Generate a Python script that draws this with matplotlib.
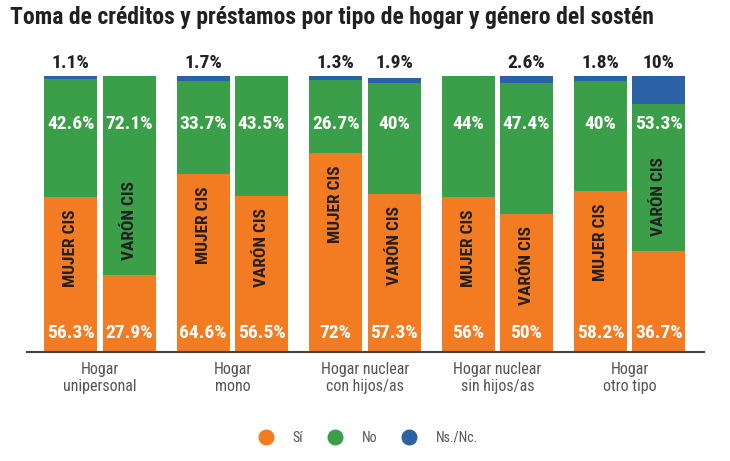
import numpy as np
import matplotlib.pyplot as plt
from matplotlib.lines import Line2D

# datos (porcentajes)
grupos = ['Hogar\nunipersonal', 'Hogar\nmono', 'Hogar nuclear\ncon hijos/as',
          'Hogar nuclear\nsin hijos/as', 'Hogar\notro tipo']
mujer_si = [56.3, 64.6, 72, 56, 58.2]
mujer_no = [42.6, 33.7, 26.7, 44, 40]
mujer_ns = [1.1, 1.7, 1.3, 0, 1.8]
varon_si = [27.9, 56.5, 57.3, 50, 36.7]
varon_no = [72.1, 43.5, 40, 47.4, 53.3]
varon_ns = [0, 0, 1.9, 2.6, 10]

naranja = '#F37B21'
verde = '#3A9F48'
azul = '#2B62A6'
oscuro = '#231F20'
gris = '#555555'

fuente = ['Roboto Condensed', 'Roboto', 'DejaVu Sans']
plt.rcParams['font.family'] = fuente


def fmt(v):
    return ('%g' % v) + '%'


fig = plt.figure(figsize=(7.3, 4.61), dpi=100)
ax = fig.add_axes([0.037, 0.2364, 0.927, 0.5988])

x = np.arange(len(grupos))
ancho = 0.40
desp = 0.22

series = [
    (x - desp, mujer_si, mujer_no, mujer_ns, 'MUJER CIS'),
    (x + desp, varon_si, varon_no, varon_ns, 'VARÓN CIS'),
]

for pos, si, no, ns, nombre in series:
    si = np.array(si)
    no = np.array(no)
    ns = np.array(ns)
    ax.bar(pos, si, ancho, color=naranja)
    ax.bar(pos, no, ancho, bottom=si, color=verde)
    ax.bar(pos, ns, ancho, bottom=si + no, color=azul)
    for p, s, n, z in zip(pos, si, no, ns):
        ax.text(p, 6.9, fmt(s), ha='center', va='center', color='white',
                fontsize=14, fontweight='bold')
        ax.text(p, 82.6, fmt(n), ha='center', va='center', color='white',
                fontsize=14, fontweight='bold')
        if z > 0:
            ax.text(p, 101.5, fmt(z), ha='center', va='bottom', color=oscuro,
                    fontsize=14, fontweight='bold')
        if s > 45:
            ax.text(p, s - 4.5, nombre, rotation=90, ha='center', va='top',
                    color=oscuro, fontsize=12.5, fontweight='bold')
        else:
            ax.text(p, s + 5.5, nombre, rotation=90, ha='center', va='bottom',
                    color=oscuro, fontsize=12.5, fontweight='bold')

ax.set_xlim(-0.551, 4.558)
ax.set_ylim(0, 100)
ax.set_yticks([])
ax.set_xticks(x)
ax.set_xticklabels(grupos, color=gris, fontsize=11.5, linespacing=1.2)
ax.tick_params(axis='x', length=0, pad=7)
for lado in ['top', 'right', 'left']:
    ax.spines[lado].set_visible(False)
ax.spines['bottom'].set_color('#444444')
ax.spines['bottom'].set_linewidth(1.5)

fig.text(0.014, 0.962, 'Toma de créditos y préstamos por tipo de hogar y género del sostén',
         ha='left', va='center', fontsize=17, fontweight='bold', color=oscuro)

manijas = [Line2D([], [], marker='o', linestyle='', markersize=10.5,
                  markerfacecolor=c, markeredgecolor=c) for c in (naranja, verde, azul)]
fig.legend(manijas, ['Sí', 'No', 'Ns./Nc.'], loc='center', ncol=3,
           bbox_to_anchor=(0.505, 0.05), frameon=False, fontsize=10,
           labelcolor=gris, handlelength=1.0, handletextpad=1.4,
           columnspacing=1.8)

fig.savefig('out.png', dpi=100)
